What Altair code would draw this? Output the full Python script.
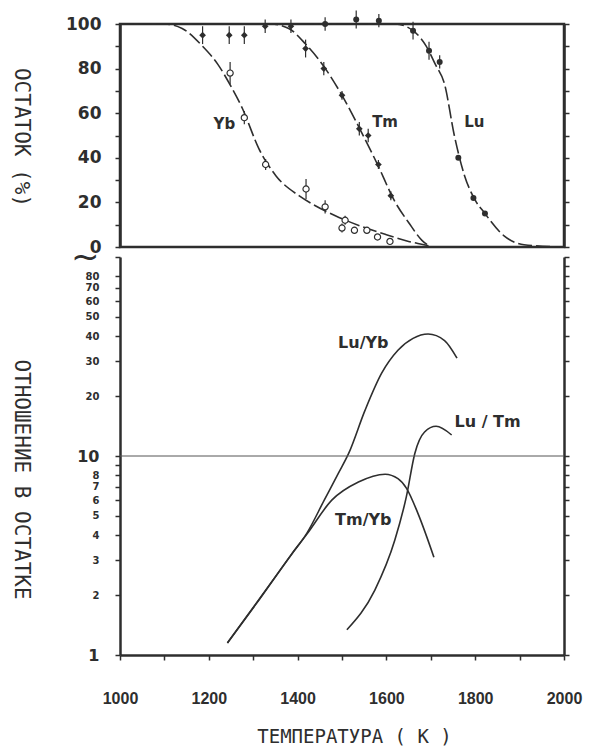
import altair as alt
import pandas as pd

INK = "#2e2e2e"
LABEL_FONT = "DejaVu Sans"
XLABEL_FONT = "Liberation Sans"
TITLE_FONT = "DejaVu Sans Mono"

# ---------------- top panel: residue (%) vs temperature (K) ----------------
yb_t = [1248, 1280, 1328, 1419, 1462, 1500, 1507, 1528, 1556, 1580, 1608]
yb_r = [78, 58, 37, 26, 18, 8.5, 12, 7.5, 7.5, 4.5, 2.5]
yb_e = [5, 3, 2.5, 4.5, 3, 2, 2, 1.5, 1.5, 1, 1]

tm_t = [1186, 1246, 1280, 1327, 1385, 1418, 1459, 1500, 1539, 1559, 1582, 1610]
tm_r = [95, 95, 95, 99, 99, 89, 80, 68, 53, 50, 37, 23]
tm_e = [4, 4, 4, 3, 3, 4, 3, 2, 3, 3, 2, 2]

lu_t = [1462, 1532, 1583, 1660, 1696, 1720, 1762, 1796, 1822]
lu_r = [100, 102, 101.5, 97, 88, 83, 40, 22, 15]
lu_e = [3, 4, 3, 4, 4, 3, 0, 0, 0]

yb_curve_t = [1000, 1100, 1140, 1186, 1220, 1250, 1276, 1313, 1351, 1403, 1440, 1485, 1540, 1600, 1650, 1690, 1700]
yb_curve_r = [100, 100, 98, 90, 82, 72, 62, 44, 32, 23, 18.5, 14, 9.5, 5.5, 2.5, 0.8, 0.3]

tm_curve_t = [1000, 1340, 1380, 1418, 1459, 1500, 1540, 1580, 1620, 1650, 1680, 1700]
tm_curve_r = [100, 100, 98, 91, 81, 68, 53, 37, 20, 11, 3, 0]

lu_curve_t = [1000, 1620, 1660, 1690, 1710, 1731, 1753, 1776, 1800, 1820, 1865, 1910, 2000]
lu_curve_r = [100, 100, 97, 90, 82, 73, 50, 32, 21, 15.5, 5, 1, 0]

top_lbl_text = ["Yb", "Tm", "Lu"]
top_lbl_t = [1235, 1597, 1798]
top_lbl_r = [55, 56, 56]

# ---------------- bottom panel: ratio in residue (log) ----------------
luyb_t = [1242, 1313, 1388, 1421, 1460, 1492, 1515, 1552, 1589, 1626, 1660, 1694, 1731, 1759]
luyb_v = [1.15, 1.9, 3.25, 4.1, 6.0, 8.2, 10.3, 17, 26, 34, 39, 41, 38, 31]

tmyb_t = [1242, 1313, 1388, 1421, 1477, 1537, 1597, 1626, 1645, 1671, 1707]
tmyb_v = [1.15, 1.89, 3.24, 4.05, 6.0, 7.4, 8.1, 7.7, 6.9, 5.15, 3.1]

lutm_t = [1511, 1574, 1619, 1645, 1664, 1686, 1712, 1747]
lutm_v = [1.34, 2.12, 3.78, 6.25, 10.3, 13.2, 14.1, 12.75]

bot_lbl_text = ["Lu/Yb", "Lu / Tm", "Tm/Yb"]
bot_lbl_t = [1548, 1828, 1548]
bot_lbl_v = [36.8, 14.9, 4.77]

ref_line_v = [10]

x_ticks = list(range(1000, 2001, 100))
top_ticks = list(range(0, 101, 10))
# 100 carries the axis-break mark (~) in place of a number
log_ticks = [1, 2, 3, 4, 5, 6, 7, 8, 9, 10, 20, 30, 40, 50, 60, 70, 80, 100]
log_ticks_right = [1, 2, 3, 4, 5, 6, 7, 8, 9, 10, 20, 30, 40, 50, 60, 70, 80, 90, 100]

# ---------------- tables ----------------
def points(series, t, r, e):
    return pd.DataFrame({"series": series, "T": t, "R": r,
                         "lo": [a - b for a, b in zip(r, e)],
                         "hi": [a + b for a, b in zip(r, e)]})

pts = pd.concat([points("Yb", yb_t, yb_r, yb_e),
                 points("Tm", tm_t, tm_r, tm_e),
                 points("Lu", lu_t, lu_r, lu_e)], ignore_index=True)
err = pts[pts["hi"] > pts["lo"]]

curves_top = pd.concat([
    pd.DataFrame({"series": "Yb", "T": yb_curve_t, "R": yb_curve_r}),
    pd.DataFrame({"series": "Tm", "T": tm_curve_t, "R": tm_curve_r}),
    pd.DataFrame({"series": "Lu", "T": lu_curve_t, "R": lu_curve_r}),
], ignore_index=True)

lbl_top = pd.DataFrame({"text": top_lbl_text, "T": top_lbl_t, "R": top_lbl_r})

curves_bot = pd.concat([
    pd.DataFrame({"series": "Lu/Yb", "T": luyb_t, "V": luyb_v}),
    pd.DataFrame({"series": "Tm/Yb", "T": tmyb_t, "V": tmyb_v}),
    pd.DataFrame({"series": "Lu/Tm", "T": lutm_t, "V": lutm_v}),
], ignore_index=True)

lbl_bot = pd.DataFrame({"text": bot_lbl_text, "T": bot_lbl_t, "V": bot_lbl_v})
ref_df = pd.DataFrame({"V": ref_line_v})

W = 444
H_TOP = 223
H_BOT = 398

xscale = alt.Scale(domain=[1000, 2000], nice=False, zero=False)
x_top = alt.X("T:Q", scale=xscale, axis=None)

top_scale = alt.Scale(domain=[0, 100], nice=False)
y_top_left = alt.Y("R:Q", scale=top_scale, axis=alt.Axis(
    values=top_ticks, format="d",
    labelExpr="datum.value % 20 == 0 ? datum.label : ''",
    labelFont=LABEL_FONT, labelFontSize=17, labelFontWeight="bold", labelColor=INK,
    labelPadding=14, tickSize=5, tickColor=INK, tickWidth=1.5,
    domainColor=INK, domainWidth=2.5, grid=False,
    title="ОСТАТОК  (%)", titleFont=TITLE_FONT, titleFontSize=21, titleFontWeight="normal",
    titleColor=INK, titleAngle=90, titleX=-100, titleY=113,
    titleAlign="center", titleBaseline="middle"))
y_top_none = alt.Y("R:Q", scale=top_scale, axis=None)
y_top_right = alt.Y("R:Q", scale=top_scale, axis=alt.Axis(
    orient="right", values=top_ticks, labels=False, tickSize=5, tickColor=INK,
    tickWidth=1.5, domainColor=INK, domainWidth=2.5, grid=False, title=None))

curve_top = alt.Chart(curves_top).mark_line(
    color=INK, strokeWidth=1.6, interpolate="monotone", strokeDash=[14, 4]
).encode(x=x_top, y=y_top_left, detail="series:N")

err_top = alt.Chart(err).mark_rule(color=INK, strokeWidth=1.2).encode(
    x=x_top, y=alt.Y("lo:Q", scale=top_scale, axis=None), y2="hi:Q")

yb_pts = alt.Chart(pts[pts["series"] == "Yb"]).mark_point(
    shape="circle", filled=True, fill="white", stroke=INK, strokeWidth=1.2, size=38, opacity=1
).encode(x=x_top, y=y_top_none)
tm_pts = alt.Chart(pts[pts["series"] == "Tm"]).mark_point(
    shape="diamond", filled=True, color=INK, size=45, opacity=1
).encode(x=x_top, y=y_top_none)
lu_pts = alt.Chart(pts[pts["series"] == "Lu"]).mark_point(
    shape="circle", filled=True, color=INK, size=36, opacity=1
).encode(x=x_top, y=y_top_none)

txt_top = alt.Chart(lbl_top).mark_text(
    font=LABEL_FONT, fontSize=15, fontWeight="bold", color=INK
).encode(x=x_top, y=y_top_none, text="text:N")

right_top = alt.Chart(curves_top).mark_line(opacity=0).encode(x=x_top, y=y_top_right, detail="series:N")

top = alt.layer(curve_top, err_top, yb_pts, tm_pts, lu_pts, txt_top, right_top).resolve_axis(
    y="independent").properties(width=W, height=H_TOP,
                                view=alt.ViewBackground(stroke=INK, strokeWidth=2.5))

# ---------------- bottom ----------------
x_bot = alt.X("T:Q", scale=xscale, axis=alt.Axis(
    values=x_ticks, format="d",
    labelExpr="datum.value % 200 == 0 ? datum.label : ''",
    labelFont=XLABEL_FONT, labelFontSize=16, labelFontWeight="bold", labelColor=INK,
    labelPadding=30, tickSize=5, tickColor=INK, tickWidth=1.5,
    domainColor=INK, domainWidth=2.5, grid=False, labelFlush=False,
    title="ТЕМПЕРАТУРА  ( К )", titleFont=TITLE_FONT, titleFontSize=19,
    titleFontWeight="normal", titleColor=INK, titleX=234, titleY=81,
    titleAlign="center", titleBaseline="middle"))

bot_scale = alt.Scale(type="log", domain=[1, 100], nice=False)
y_bot_left = alt.Y("V:Q", scale=bot_scale, axis=alt.Axis(
    values=log_ticks, format="d", labelOverlap=False,
    labelExpr="datum.value == 9 ? '' : (datum.value == 100 ? '~' : datum.label)",
    labelFont=LABEL_FONT, labelColor=INK,
    labelFontWeight={"condition": {"test": "datum.value == 100", "value": "normal"}, "value": "bold"},
    labelFontSize={"condition": [
        {"test": "datum.value == 100", "value": 34},
        {"test": "datum.value == 10 || datum.value == 1", "value": 16}], "value": 10},
    labelPadding=16, tickSize=5, tickColor=INK, tickWidth=1.5,
    domainColor=INK, domainWidth=2.5, grid=False,
    title="ОТНОШЕНИЕ  В  ОСТАТКЕ", titleFont=TITLE_FONT, titleFontSize=21,
    titleFontWeight="normal", titleColor=INK, titleAngle=90, titleX=-100, titleY=222,
    titleAlign="center", titleBaseline="middle"))
y_bot_none = alt.Y("V:Q", scale=bot_scale, axis=None)
y_bot_right = alt.Y("V:Q", scale=bot_scale, axis=alt.Axis(
    orient="right", values=log_ticks_right, labels=False, tickSize=5, tickColor=INK,
    tickWidth=1.5, domainColor=INK, domainWidth=2.5, grid=False, title=None))

curve_bot = alt.Chart(curves_bot).mark_line(
    color=INK, strokeWidth=1.6, interpolate="monotone"
).encode(x=x_bot, y=y_bot_left, detail="series:N")

ref_rule = alt.Chart(ref_df).mark_rule(color="#555555", strokeWidth=1).encode(y=y_bot_none)

txt_bot = alt.Chart(lbl_bot).mark_text(
    font=LABEL_FONT, fontSize=16, fontWeight="bold", color=INK
).encode(x=x_bot, y=y_bot_none, text="text:N")

right_bot = alt.Chart(curves_bot).mark_line(opacity=0).encode(x=x_bot, y=y_bot_right, detail="series:N")

bottom = alt.layer(curve_bot, ref_rule, txt_bot, right_bot).resolve_axis(
    y="independent").properties(width=W, height=H_BOT)

chart = alt.vconcat(top, bottom, spacing=-24).properties(
    padding={"left": 0, "top": 0, "right": 0, "bottom": 0},
    background="white",
).configure_view(stroke="transparent")

chart.save("out.html", embed_options={"renderer": "svg", "actions": False})
